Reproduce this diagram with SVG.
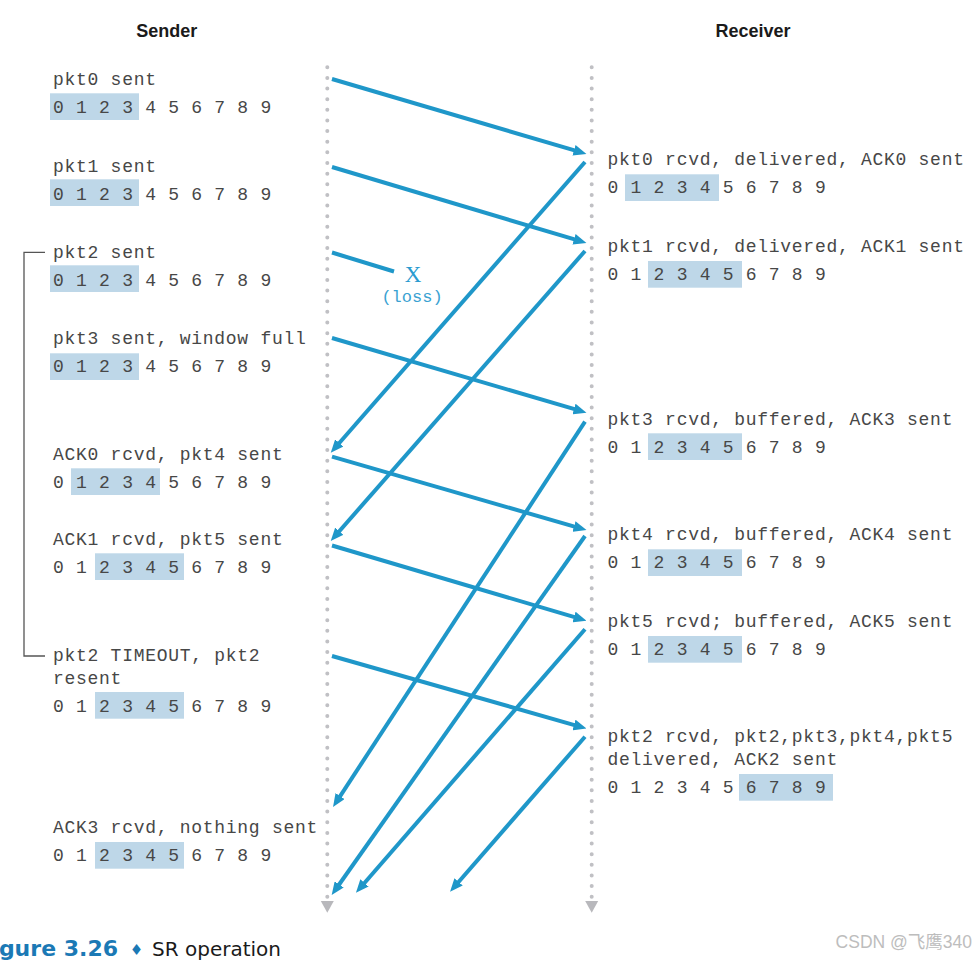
<svg xmlns="http://www.w3.org/2000/svg" width="976" height="960" viewBox="0 0 976 960">
<style>
.hd{font-family:"Liberation Sans",Arial,sans-serif;font-weight:bold;font-size:18px;fill:#1a1a1a;text-anchor:middle}
.t{font-family:"Liberation Mono","Courier New",monospace;font-size:18px;letter-spacing:0.72px;fill:#474747}
.win{fill:#bed7e8}
.tl{stroke:#c0c0c4;stroke-width:4;stroke-linecap:round;stroke-dasharray:0 10.633;fill:none}
.tri{fill:#b8b8bc}
.ar{stroke:#1f97c9;stroke-width:4;fill:none;marker-end:url(#ah)}
.ln{stroke:#1f97c9;stroke-width:4;fill:none}
.br{stroke:#555;stroke-width:1.3;fill:none}
</style>
<defs>
<marker id="ah" markerUnits="userSpaceOnUse" viewBox="0 0 13 11" markerWidth="13" markerHeight="11" refX="5" refY="5.5" orient="auto">
<path d="M0,0 L13,5.5 L0,11 z" fill="#1f97c9"/>
</marker>
</defs>
<rect width="976" height="960" fill="#fff"/>

<g id="sender-header"><text class="hd" x="166.7" y="36.7">Sender</text></g>
<g id="receiver-header"><text class="hd" x="753" y="36.7">Receiver</text></g>

<g id="sender-timeline">
<line class="tl" x1="327.3" y1="67.3" x2="327.3" y2="896.7"/>
<polygon class="tri" points="320.8,901 333.8,901 327.3,912.7"/>
</g>
<g id="receiver-timeline">
<line class="tl" x1="591.7" y1="67.3" x2="591.7" y2="896.7"/>
<polygon class="tri" points="585.2,901 598.2,901 591.7,912.7"/>
</g>

<g id="timeout-bracket"><path class="br" d="M45,252.3 H24 V656 H45"/></g>

<g id="s-pkt0">
<rect class="win" x="50" y="93.3" width="89" height="26.7"/>
<text class="t" x="53" y="85">pkt0 sent</text>
<text class="t" x="53" y="113">0 1 2 3 4 5 6 7 8 9</text>
</g>
<g id="s-pkt1">
<rect class="win" x="50" y="179.3" width="89" height="26.7"/>
<text class="t" x="53" y="171.5">pkt1 sent</text>
<text class="t" x="53" y="199.5">0 1 2 3 4 5 6 7 8 9</text>
</g>
<g id="s-pkt2">
<rect class="win" x="50" y="265.3" width="89" height="26.7"/>
<text class="t" x="53" y="257.5">pkt2 sent</text>
<text class="t" x="53" y="285.5">0 1 2 3 4 5 6 7 8 9</text>
</g>
<g id="s-pkt3">
<rect class="win" x="50" y="353.3" width="89" height="26.7"/>
<text class="t" x="53" y="344">pkt3 sent, window full</text>
<text class="t" x="53" y="372">0 1 2 3 4 5 6 7 8 9</text>
</g>
<g id="s-ack0">
<rect class="win" x="71" y="468.3" width="89" height="26.7"/>
<text class="t" x="53" y="459.5">ACK0 rcvd, pkt4 sent</text>
<text class="t" x="53" y="487.5">0 1 2 3 4 5 6 7 8 9</text>
</g>
<g id="s-ack1">
<rect class="win" x="95" y="553.3" width="89" height="26.7"/>
<text class="t" x="53" y="545">ACK1 rcvd, pkt5 sent</text>
<text class="t" x="53" y="573">0 1 2 3 4 5 6 7 8 9</text>
</g>
<g id="s-timeout">
<rect class="win" x="95" y="692" width="89" height="26.7"/>
<text class="t" x="53" y="661">pkt2 TIMEOUT, pkt2</text>
<text class="t" x="53" y="683.5">resent</text>
<text class="t" x="53" y="711.5">0 1 2 3 4 5 6 7 8 9</text>
</g>
<g id="s-ack3">
<rect class="win" x="95" y="842" width="89" height="26.7"/>
<text class="t" x="53" y="832.7">ACK3 rcvd, nothing sent</text>
<text class="t" x="53" y="860.7">0 1 2 3 4 5 6 7 8 9</text>
</g>

<g id="r-pkt0">
<rect class="win" x="625" y="174.3" width="94" height="26.7"/>
<text class="t" x="607.5" y="165">pkt0 rcvd, delivered, ACK0 sent</text>
<text class="t" x="607.5" y="193">0 1 2 3 4 5 6 7 8 9</text>
</g>
<g id="r-pkt1">
<rect class="win" x="648" y="261" width="94" height="26.7"/>
<text class="t" x="607.5" y="252">pkt1 rcvd, delivered, ACK1 sent</text>
<text class="t" x="607.5" y="280">0 1 2 3 4 5 6 7 8 9</text>
</g>
<g id="r-pkt3">
<rect class="win" x="648" y="433.3" width="94" height="26.7"/>
<text class="t" x="607.5" y="425">pkt3 rcvd, buffered, ACK3 sent</text>
<text class="t" x="607.5" y="453">0 1 2 3 4 5 6 7 8 9</text>
</g>
<g id="r-pkt4">
<rect class="win" x="648" y="549.3" width="94" height="26.7"/>
<text class="t" x="607.5" y="540">pkt4 rcvd, buffered, ACK4 sent</text>
<text class="t" x="607.5" y="568">0 1 2 3 4 5 6 7 8 9</text>
</g>
<g id="r-pkt5">
<rect class="win" x="648" y="636" width="94" height="26.7"/>
<text class="t" x="607.5" y="626.5">pkt5 rcvd; buffered, ACK5 sent</text>
<text class="t" x="607.5" y="654.5">0 1 2 3 4 5 6 7 8 9</text>
</g>
<g id="r-pkt2">
<rect class="win" x="739" y="774" width="94" height="26.7"/>
<text class="t" x="607.5" y="742.3">pkt2 rcvd, pkt2,pkt3,pkt4,pkt5</text>
<text class="t" x="607.5" y="765">delivered, ACK2 sent</text>
<text class="t" x="607.5" y="793">0 1 2 3 4 5 6 7 8 9</text>
</g>

<g id="loss-mark">
<text x="413" y="281.7" text-anchor="middle" font-family="Liberation Serif, serif" font-size="23" fill="#2a9bd0">X</text>
<text x="412" y="302" text-anchor="middle" font-family="Liberation Mono, monospace" font-size="17" fill="#3aa2d2">(loss)</text>
</g>

<g id="connectors">
<line class="ar" x1="332" y1="79" x2="578.8" y2="151.7"/>
<line class="ar" x1="332" y1="167" x2="578.8" y2="240.7"/>
<line class="ln" x1="332" y1="252.5" x2="394" y2="271.5"/>
<line class="ar" x1="332" y1="338" x2="578.8" y2="410.4"/>
<line class="ar" x1="332" y1="456.7" x2="578.8" y2="527.8"/>
<line class="ar" x1="332" y1="545.5" x2="578.8" y2="618.4"/>
<line class="ar" x1="332" y1="656" x2="578.8" y2="726.3"/>
<line class="ar" x1="585" y1="162" x2="336" y2="446.7"/>
<line class="ar" x1="585" y1="251" x2="336" y2="535"/>
<line class="ar" x1="585" y1="421.7" x2="337.4" y2="800.3"/>
<line class="ar" x1="585" y1="536" x2="336.3" y2="888.5"/>
<line class="ar" x1="585" y1="629.3" x2="361.2" y2="886.7"/>
<line class="ar" x1="585" y1="736.7" x2="455.3" y2="885.7"/>
</g>

<g id="caption">
<text x="118" y="956" text-anchor="end" font-family="DejaVu Sans, sans-serif" font-weight="bold" font-size="22" fill="#1b79b5">gure 3.26</text>
<text x="136.5" y="955" text-anchor="middle" font-family="DejaVu Sans, sans-serif" font-size="15" fill="#1b79b5">♦</text>
<text x="152" y="956" font-family="DejaVu Sans, sans-serif" font-size="20" fill="#1a1a1a">SR operation</text>
</g>

<g id="watermark">
<text x="972" y="948.3" text-anchor="end" font-family="Liberation Sans, Noto Sans CJK SC, sans-serif" font-size="17.5" fill="#bdbdbd">CSDN @飞鹰340</text>
</g>
</svg>
